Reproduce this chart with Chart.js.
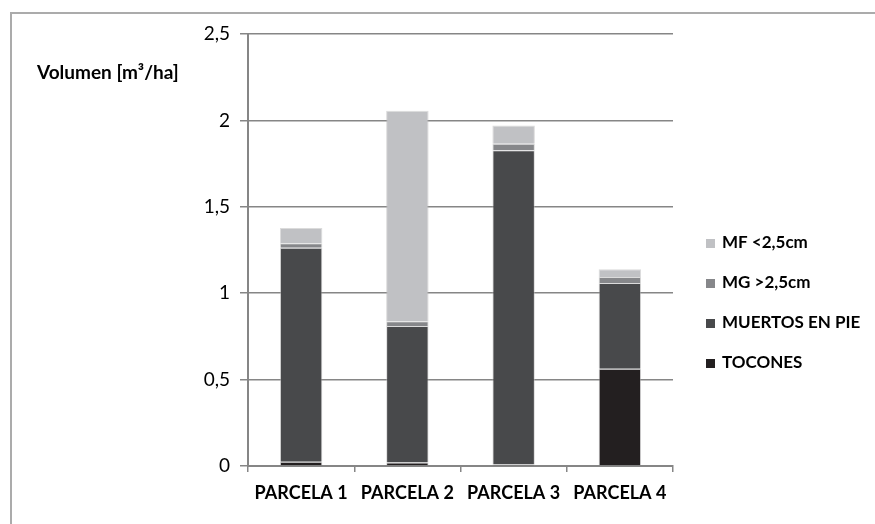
<!DOCTYPE html>
<html>
<head>
<meta charset="utf-8">
<script src="https://cdn.jsdelivr.net/npm/chart.js@4.4.1/dist/chart.umd.min.js"></script>
<style>
  html, body { margin: 0; padding: 0; background: #fff; }
  #wrap { position: relative; width: 875px; height: 524px; }
</style>
</head>
<body>
<div id="wrap"><canvas id="grafico"></canvas></div>
<script>
// datos
const parcelas = ['PARCELA 1', 'PARCELA 2', 'PARCELA 3', 'PARCELA 4'];
const tocones = [0.025, 0.02, 0.008, 0.563];
const muertosEnPie = [1.238, 0.79, 1.819, 0.496];
const mgMayor = [0.026, 0.027, 0.038, 0.035];
const mfMenor = [0.088, 1.219, 0.106, 0.044];
const ticksY = [0, 0.5, 1, 1.5, 2, 2.5];

const gris = '#868686';
const fuente = 'Lato, "Liberation Sans", sans-serif';

// marco gris de la figura + titulo del eje y
const marco = {
    id: 'marco',
    afterDraw(chart) {
        const ctx = chart.ctx;
        ctx.save();
        ctx.strokeStyle = '#ababab';
        ctx.lineWidth = 2;
        ctx.beginPath();
        ctx.moveTo(11, 530);
        ctx.lineTo(11, 13);
        ctx.lineTo(880, 13);
        ctx.stroke();

        ctx.fillStyle = '#000';
        ctx.font = 'bold 19px ' + fuente;
        ctx.textBaseline = 'middle';
        ctx.fillText('Volumen [m\u00B3/ha]', 37, 73);
        ctx.restore();
    }
};

// leyenda a la derecha, orden inverso como en Excel
const leyenda = {
    id: 'leyenda',
    afterDraw(chart) {
        const ctx = chart.ctx;
        const sets = chart.data.datasets.slice().reverse();
        ctx.save();
        ctx.font = 'bold 17px ' + fuente;
        ctx.textBaseline = 'middle';
        sets.forEach((ds, i) => {
            const y = 243 + i * 40;
            ctx.fillStyle = ds.backgroundColor;
            ctx.fillRect(706, y - 4, 9, 9);
            ctx.fillStyle = '#000';
            ctx.fillText(ds.label, 722, y);
        });
        ctx.restore();
    }
};

function serie(label, datos, color) {
    return {
        label: label,
        data: datos,
        backgroundColor: color,
        borderColor: 'rgba(190,190,190,0.55)',
        borderWidth: 1,
        barPercentage: 0.4,
        categoryPercentage: 1
    };
}

const ctx = document.getElementById('grafico').getContext('2d');
new Chart(ctx, {
    type: 'bar',
    data: {
        labels: parcelas,
        datasets: [
            serie('TOCONES', tocones, '#231f20'),
            serie('MUERTOS EN PIE', muertosEnPie, '#48494b'),
            serie('MG >2,5cm', mgMayor, '#86878a'),
            serie('MF <2,5cm', mfMenor, '#c0c1c4')
        ]
    },
    options: {
        responsive: true,
        maintainAspectRatio: false,
        animation: false,
        layout: { padding: { top: 34, right: 202, bottom: 0, left: 0 } },
        plugins: {
            legend: { display: false },
            tooltip: { enabled: false }
        },
        scales: {
            x: {
                stacked: true,
                afterFit: s => { s.height = 58; },
                border: { color: gris, width: 2 },
                grid: { display: true, drawOnChartArea: false, color: gris, lineWidth: 1.5, tickLength: 6, offset: true },
                ticks: {
                    color: '#000',
                    padding: 10,
                    font: { family: fuente, size: 18, weight: 'bold' }
                }
            },
            y: {
                stacked: true,
                min: 0,
                max: 2.5,
                afterFit: s => { s.width = 248; },
                afterBuildTicks: s => { s.ticks = ticksY.map(v => ({ value: v })); },
                border: { color: gris, width: 2 },
                grid: { color: gris, lineWidth: 1.5, tickLength: 8 },
                ticks: {
                    color: '#000',
                    padding: 10,
                    font: { family: fuente, size: 19 },
                    callback: v => String(v).replace('.', ',')
                }
            }
        }
    },
    plugins: [marco, leyenda]
});
</script>
</body>
</html>
